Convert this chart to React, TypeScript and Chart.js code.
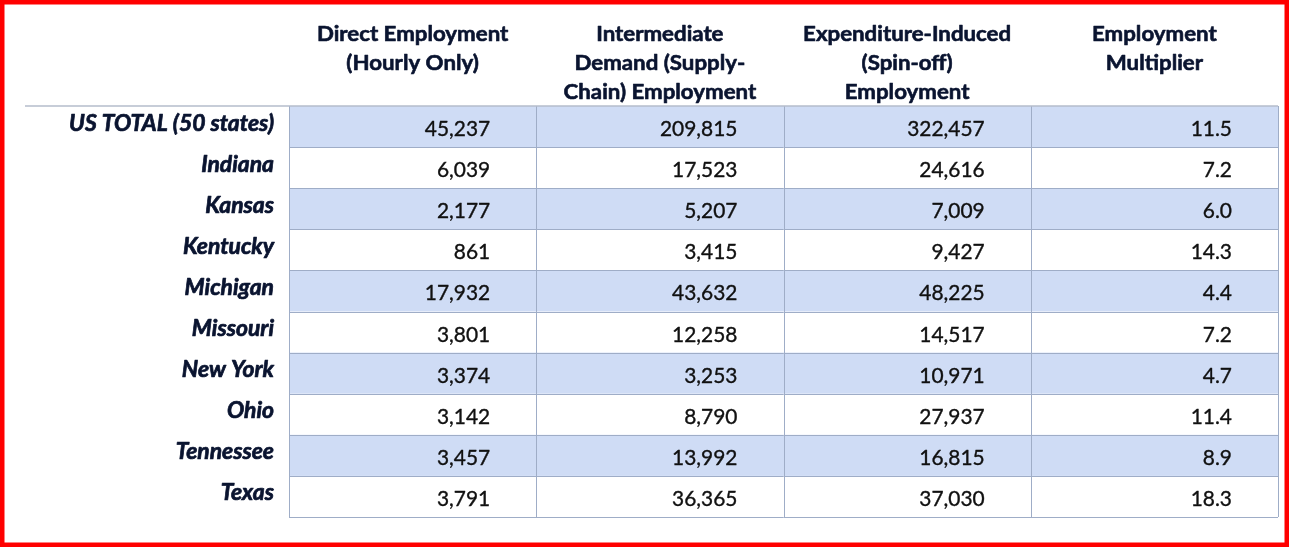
import React, { useEffect, useRef } from "react";
import { Chart, registerables } from "chart.js";

Chart.register(...registerables);

const states = [
  "US TOTAL (50 states)",
  "Indiana",
  "Kansas",
  "Kentucky",
  "Michigan",
  "Missouri",
  "New York",
  "Ohio",
  "Tennessee",
  "Texas",
];

const headerLines = [
  ["Direct Employment", "(Hourly Only)"],
  ["Intermediate", "Demand (Supply-", "Chain) Employment"],
  ["Expenditure-Induced", "(Spin-off)", "Employment"],
  ["Employment", "Multiplier"],
];

const directEmployment = [45237, 6039, 2177, 861, 17932, 3801, 3374, 3142, 3457, 3791];
const intermediateEmployment = [209815, 17523, 5207, 3415, 43632, 12258, 3253, 8790, 13992, 36365];
const inducedEmployment = [322457, 24616, 7009, 9427, 48225, 14517, 10971, 27937, 16815, 37030];
const employmentMultiplier = [11.5, 7.2, 6.0, 14.3, 4.4, 7.2, 4.7, 11.4, 8.9, 18.3];

const seriesList = [directEmployment, intermediateEmployment, inducedEmployment, employmentMultiplier];

function fmt(col: number, v: number): string {
  if (col === 3) return v.toFixed(1);
  return v.toLocaleString("en-US");
}

function drawText(
  ctx: CanvasRenderingContext2D,
  text: string,
  x: number,
  y: number,
  align: CanvasTextAlign,
  sx: number,
  stroke: number
) {
  ctx.save();
  ctx.translate(x, y);
  ctx.scale(sx, 1);
  ctx.textAlign = align;
  ctx.textBaseline = "alphabetic";
  ctx.fillText(text, 0, 0);
  if (stroke > 0) {
    ctx.strokeStyle = ctx.fillStyle as string;
    ctx.lineWidth = stroke;
    ctx.lineJoin = "round";
    ctx.strokeText(text, 0, 0);
  }
  ctx.restore();
}

const tablePlugin = {
  id: "tablePlugin",
  beforeDraw(chart: any) {
    const ctx: CanvasRenderingContext2D = chart.ctx;
    ctx.save();
    ctx.fillStyle = "#ffffff";
    ctx.fillRect(0, 0, chart.width, chart.height);
    ctx.restore();
  },
  afterDraw(chart: any) {
    const ctx: CanvasRenderingContext2D = chart.ctx;
    const xs = chart.scales.x;
    const ys = chart.scales.y;
    const area = chart.chartArea;
    ctx.save();

    // cell fills
    for (let r = 0; r < states.length; r++) {
      const y0 = ys.getPixelForValue(r);
      const y1 = ys.getPixelForValue(r + 1);
      if (r % 2 === 0) {
        ctx.fillStyle = "#cfdcf5";
        ctx.fillRect(xs.getPixelForValue(0), y0, xs.getPixelForValue(seriesList.length) - xs.getPixelForValue(0), y1 - y0);
      }
    }

    // grid lines
    ctx.strokeStyle = "#9fadc7";
    ctx.lineWidth = 1;
    for (let r = 1; r <= states.length; r++) {
      const y = Math.round(ys.getPixelForValue(r)) + 0.5;
      ctx.beginPath();
      ctx.moveTo(xs.getPixelForValue(0), y);
      ctx.lineTo(xs.getPixelForValue(seriesList.length), y);
      ctx.stroke();
    }
    for (let c = 0; c <= seriesList.length; c++) {
      const x = Math.round(xs.getPixelForValue(c)) + 0.5;
      ctx.beginPath();
      ctx.moveTo(x, ys.getPixelForValue(0));
      ctx.lineTo(x, ys.getPixelForValue(states.length));
      ctx.stroke();
    }
    // header rule
    ctx.strokeStyle = "#b4bccb";
    ctx.lineWidth = 1.5;
    ctx.beginPath();
    ctx.moveTo(25, area.top);
    ctx.lineTo(xs.getPixelForValue(seriesList.length), area.top);
    ctx.stroke();

    // header text
    ctx.fillStyle = "#0a1430";
    ctx.font = "bold 21px Lato";
    for (let c = 0; c < headerLines.length; c++) {
      const cx = xs.getPixelForValue(c + 0.5);
      headerLines[c].forEach((line, i) => {
        drawText(ctx, line, cx, area.top - 65 + i * 28.8, "center", 1.06, 0.6);
      });
    }

    // row labels
    ctx.fillStyle = "#0a1430";
    ctx.font = "italic bold 22px Lato";
    for (let r = 0; r < states.length; r++) {
      const cy = ys.getPixelForValue(r + 0.5);
      drawText(ctx, states[r], area.left - 15, cy + 4, "right", 1.04, 0.7);
    }

    // numbers
    ctx.fillStyle = "#111111";
    ctx.font = "20.5px Lato";
    for (let c = 0; c < seriesList.length; c++) {
      const xr = xs.getPixelForValue(c + 1) - 46;
      for (let r = 0; r < states.length; r++) {
        const cy = ys.getPixelForValue(r + 0.5);
        drawText(ctx, fmt(c, seriesList[c][r]), xr, cy + 9.5, "right", 1.02, 0.35);
      }
    }

    // red frame
    ctx.strokeStyle = "#ff0000";
    ctx.lineWidth = 4.5;
    ctx.strokeRect(2.25, 2.25, chart.width - 4.5, chart.height - 4.5);
    ctx.restore();
  },
};

export default function App() {
  const ref = useRef<HTMLCanvasElement | null>(null);
  useEffect(() => {
    if (!ref.current) return;
    const points: { x: number; y: number }[] = [];
    for (let c = 0; c < seriesList.length; c++) {
      for (let r = 0; r < states.length; r++) points.push({ x: c + 0.5, y: r + 0.5 });
    }
    const chart = new Chart(ref.current, {
      type: "scatter",
      data: {
        datasets: [{ data: points, pointRadius: 0, showLine: false }],
      },
      options: {
        animation: false,
        responsive: false,
        devicePixelRatio: 1,
        layout: { padding: { left: 289, right: 11, top: 106, bottom: 30 } },
        plugins: { legend: { display: false }, tooltip: { enabled: false } },
        scales: {
          x: { type: "linear", min: 0, max: seriesList.length, display: false },
          y: { type: "linear", min: 0, max: states.length, reverse: true, display: false },
        },
      },
      plugins: [tablePlugin],
    });
    return () => chart.destroy();
  }, []);
  return (
    <div style={{ position: "absolute", left: 0, top: 0, width: 1289, height: 547 }}>
      <canvas ref={ref} width={1289} height={547} />
    </div>
  );
}
